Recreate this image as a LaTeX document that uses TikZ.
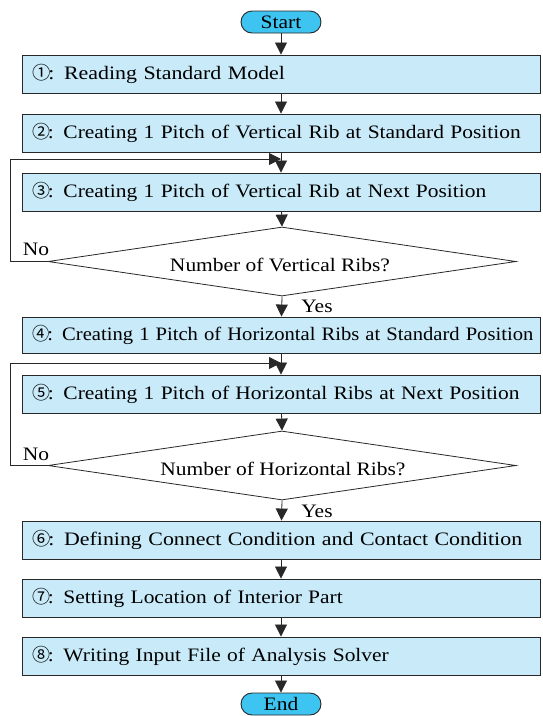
\documentclass[tikz,border=0pt]{standalone}
\usepackage{graphicx}
\usepackage{fontspec}
\setmainfont{Liberation Serif}[FakeStretch=1.13]
\newfontfamily\circfont{Noto Sans CJK JP}
\usetikzlibrary{shapes.geometric,arrows.meta}
\definecolor{boxfill}{RGB}{200,234,249}
\definecolor{termfill}{RGB}{62,196,240}
\definecolor{edgecol}{RGB}{40,40,40}
\newcommand{\cnum}[1]{{\circfont\fontsize{18}{20}\selectfont #1}\kern-2pt}
\newcommand{\hsc}[2]{\scalebox{#1}[1]{#2}}
\begin{document}
\begin{tikzpicture}[x=1pt,y=-1pt,
  stepbox/.style={draw=edgecol, line width=0.9pt, fill=boxfill, minimum height=38pt,
    text width=498pt, inner xsep=10pt, inner ysep=0pt, align=left, anchor=center,
    font=\fontsize{19}{21}\selectfont},
  term/.style={draw=edgecol, line width=0.9pt, fill=termfill, minimum width=80pt,
    minimum height=22pt, rounded corners=11pt, inner sep=0pt, anchor=center,
    font=\fontsize{19}{21}\selectfont},
  decide/.style={diamond, draw=edgecol, line width=0.8pt, fill=white, aspect=6.8,
    minimum width=468pt, minimum height=69pt, inner sep=0pt, anchor=center,
    font=\fontsize{19}{21}\selectfont},
  lbl/.style={inner sep=0pt, font=\fontsize{19}{21}\selectfont},
  arr/.style={draw=edgecol, line width=0.8pt, -{Triangle[length=12pt,width=12pt]}},
]
\useasboundingbox (0,0) rectangle (542,716);

\node[term] (start) at (281,22) {Start};
\node[stepbox] (b1) at (281,74) {\hsc{1.02}{\cnum{①}: Reading Standard Model}};
\node[stepbox] (b2) at (281,133) {\hsc{1.0}{\cnum{②}: Creating 1 Pitch of Vertical Rib at Standard Position}};
\node[stepbox] (b3) at (281,192) {\hsc{1.0}{\cnum{③}: Creating 1 Pitch of Vertical Rib at Next Position}};
\node[decide] (d1) at (282,261.5) {};
\node[lbl] (t1) at (280,265) {Number of Vertical Ribs?};
\node[stepbox, minimum height=36pt] (b4) at (281,335) {\hsc{0.96}{\cnum{④}: Creating 1 Pitch of Horizontal Ribs at Standard Position}};
\node[stepbox] (b5) at (281,394) {\hsc{1.0}{\cnum{⑤}: Creating 1 Pitch of Horizontal Ribs at Next Position}};
\node[decide] (d2) at (282,465.5) {};
\node[lbl] (t2) at (283,469) {Number of Horizontal Ribs?};
\node[stepbox] (b6) at (281,540) {\hsc{1.02}{\cnum{⑥}: Defining Connect Condition and Contact Condition}};
\node[stepbox] (b7) at (281,598) {\hsc{1.0}{\cnum{⑦}: Setting Location of Interior Part}};
\node[stepbox] (b8) at (281,656) {\hsc{1.0}{\cnum{⑧}: Writing Input File of Analysis Solver}};
\node[term] (end) at (281,704) {End};

\coordinate (j1) at (281,159);
\coordinate (j2) at (281,363);

\draw[arr] (start) -- (b1);
\draw[arr] (b1) -- (b2);
\draw[arr] (b2) -- (b3);
\draw[arr] (b3) -- (d1.north);
\draw[arr] (d1.south) -- (b4);
\draw[arr] (b4) -- (b5);
\draw[arr] (b5) -- (d2.north);
\draw[arr] (d2.south) -- (b6);
\draw[arr] (b6) -- (b7);
\draw[arr] (b7) -- (b8);
\draw[arr] (b8) -- (end);

\draw[arr] (d1.west) -- ++(-37,0) |- (j1);
\draw[arr] (d2.west) -- ++(-37,0) |- (j2);

\node[lbl] (no1) at (36,249) {No};
\node[lbl] (no2) at (36,454) {No};
\node[lbl] (yes1) at (317,306) {Yes};
\node[lbl] (yes2) at (317,511) {Yes};
\end{tikzpicture}
\end{document}
